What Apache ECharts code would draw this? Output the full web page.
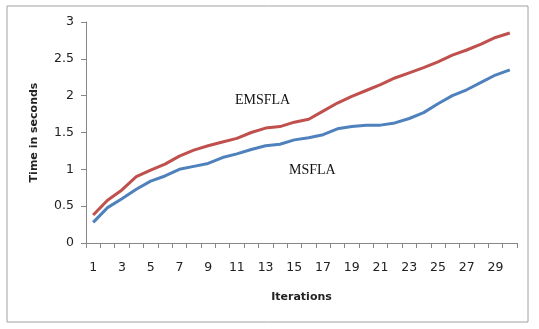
<!DOCTYPE html>
<html>
<head>
<meta charset="utf-8">
<script src="https://cdn.jsdelivr.net/npm/echarts@6/dist/echarts.min.js"></script>
<style>
  html, body { margin: 0; padding: 0; background: #fff; }
  #chart { width: 539px; height: 329px; }
</style>
</head>
<body>
<div id="chart"></div>
<script>
var chart = echarts.init(document.getElementById('chart'));

var iterations = [];
for (var i = 1; i <= 30; i++) iterations.push(String(i));

var emsfla = [0.38, 0.58, 0.72, 0.90, 0.99, 1.07, 1.18, 1.26, 1.32, 1.37,
              1.42, 1.50, 1.56, 1.58, 1.64, 1.68, 1.79, 1.90, 1.99, 2.07,
              2.15, 2.24, 2.31, 2.38, 2.46, 2.55, 2.62, 2.70, 2.79, 2.85];
var msfla = [0.28, 0.48, 0.60, 0.73, 0.84, 0.91, 1.00, 1.04, 1.08, 1.16,
             1.21, 1.27, 1.32, 1.34, 1.40, 1.43, 1.47, 1.55, 1.58, 1.60,
             1.60, 1.63, 1.69, 1.77, 1.89, 2.00, 2.08, 2.18, 2.28, 2.35];

var axisColor = '#868686';

var option = {
    animation: false,
    grid: { left: 86, right: 22, top: 22, bottom: 86 },
    xAxis: {
        type: 'category',
        data: iterations,
        boundaryGap: true,
        name: 'Iterations',
        nameLocation: 'middle',
        nameGap: 49,
        nameTextStyle: { fontFamily: 'DejaVu Sans', fontWeight: 'bold', fontSize: 11, color: '#222' },
        axisLine: { lineStyle: { color: axisColor } },
        axisTick: { show: true, interval: 0, length: 5, lineStyle: { color: axisColor } },
        axisLabel: { interval: 1, margin: 18, fontFamily: 'DejaVu Sans', fontSize: 12.5, color: '#222' },
        splitLine: { show: false }
    },
    yAxis: {
        type: 'value',
        min: 0, max: 3, interval: 0.5,
        name: 'Time in seconds',
        nameLocation: 'middle',
        nameGap: 46,
        nameTextStyle: { fontFamily: 'DejaVu Sans', fontWeight: 'bold', fontSize: 11, color: '#222' },
        axisLine: { show: true, lineStyle: { color: axisColor } },
        axisTick: { show: true, length: 5, lineStyle: { color: axisColor } },
        axisLabel: { margin: 12, fontFamily: 'DejaVu Sans', fontSize: 12.5, color: '#222' },
        splitLine: { show: false }
    },
    series: [
        {
            name: 'EMSFLA', type: 'line', data: emsfla,
            symbol: 'none', lineStyle: { width: 3, color: '#C0504D' }
        },
        {
            name: 'MSFLA', type: 'line', data: msfla,
            symbol: 'none', lineStyle: { width: 3, color: '#4F81BD' }
        }
    ],
    graphic: [
        {
            type: 'rect', shape: { x: 7, y: 6, width: 521, height: 316 },
            style: { fill: 'none', stroke: '#a0a0a0', lineWidth: 1 }, silent: true
        },
        {
            type: 'text', left: 235, top: 93,
            style: { text: 'EMSFLA', font: '14px "Liberation Serif"', fill: '#111' }
        },
        {
            type: 'text', left: 289, top: 163,
            style: { text: 'MSFLA', font: '14px "Liberation Serif"', fill: '#111' }
        }
    ]
};
chart.setOption(option);
</script>
</body>
</html>
